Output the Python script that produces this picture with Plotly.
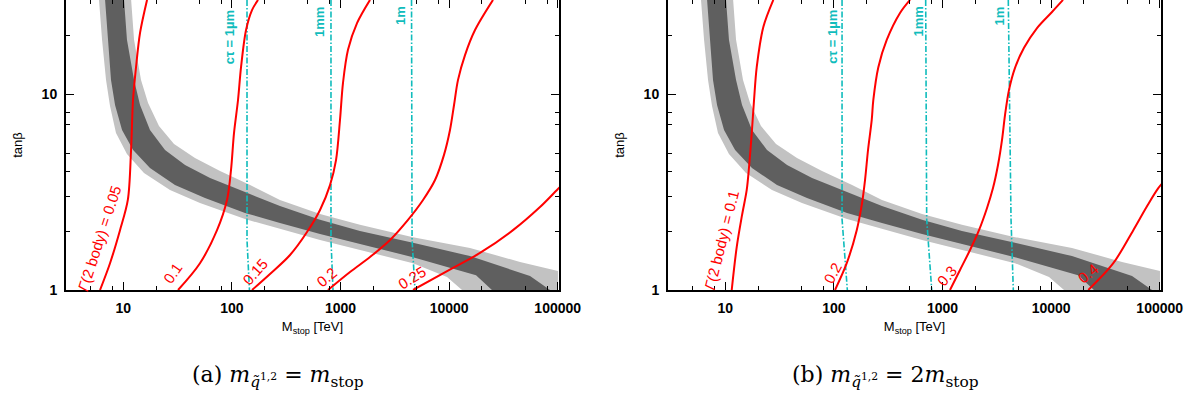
import numpy as np
import plotly.graph_objects as go

# ---------------- data (M_stop [TeV], tan beta) ----------------
# allowed band (identical in both panels)
dark_outer_M = [10.15, 10.8, 12.55, 14.25, 17.6, 24.2, 37, 62.9, 132, 277, 648, 1510, 4650, 15570, 55600, 85000]
dark_outer_T = [30.2, 18.9, 11.8, 8.79, 6.55, 5.18, 4.34, 3.73, 3.16, 2.68, 2.28, 2.00, 1.74, 1.49, 1.18, 1.0]
dark_inner_M = [6.79, 7.23, 7.70, 8.39, 9.73, 12.3, 17.6, 29.9, 56.5, 132, 277, 648, 4650, 17700, 24800]
dark_inner_T = [30.2, 18.9, 11.8, 8.79, 6.55, 5.18, 4.19, 3.43, 2.95, 2.47, 2.20, 1.93, 1.47, 1.19, 1.0]
light_outer_M = [11.8, 12.55, 14.55, 16.9, 21.3, 29.3, 45.7, 77.7, 147, 277, 648, 1510, 4650, 15570, 45000, 100600, 100600]
light_outer_T = [30.2, 18.9, 11.8, 9.0, 6.87, 5.56, 4.72, 4.05, 3.43, 2.88, 2.44, 2.15, 1.86, 1.64, 1.39, 1.25, 1.0]
light_inner_M = [5.97, 6.37, 6.93, 7.54, 8.56, 10.8, 15.5, 26.9, 50.8, 132, 277, 648, 4650, 9570, 13150]
light_inner_T = [30.2, 18.9, 11.8, 8.69, 6.32, 4.94, 3.95, 3.24, 2.78, 2.30, 2.05, 1.80, 1.37, 1.165, 1.0]

# panel (a): Gamma(2 body) contours
a_g005_M = [6.10, 7.54, 9.32, 11.0, 11.78, 12.28, 13.09, 14.25, 16.53]
a_g005_T = [1.0, 1.37, 2.02, 2.88, 5.18, 9.32, 13.7, 20.5, 30.2]
a_g010_M = [31.9, 50.8, 72.9, 90.1, 98.1, 104.5, 113.8, 121.3, 134.9, 153.1, 173.9]
a_g010_T = [1.0, 1.37, 2.02, 2.88, 4.10, 6.32, 9.32, 13.7, 21.2, 26.8, 30.2]
a_g015_M = [153.1, 224.2, 342.8, 491.5, 647.5, 800.5, 909, 989, 1054, 1172, 1419, 1869]
a_g015_T = [1.0, 1.207, 1.509, 1.976, 2.56, 3.43, 4.60, 7.37, 11.4, 16.8, 23.0, 30.2]
a_g020_M = [767, 1223, 1869, 2857, 4183, 5752, 7418, 8974, 10190, 11100, 12080, 14010, 17320, 25360]
a_g020_T = [1.0, 1.235, 1.473, 1.80, 2.28, 2.88, 3.64, 4.89, 6.55, 8.79, 11.8, 15.8, 21.2, 30.2]
a_g025_M = [4652, 10860, 19250, 38770, 68710, 98540, 116800]
a_g025_T = [1.0, 1.295, 1.545, 2.02, 2.65, 3.24, 3.56]
a_gamma_labels = ["<i>Γ</i>(2 body) = 0.05", "0.1", "0.15", "0.2", "0.25"]
a_gamma_label_M = [5.97, 28.1, 163, 735, 4550]
a_gamma_label_T = [1.84, 1.22, 1.25, 1.165, 1.165]

# panel (a): c*tau lines
a_ct_1um_M = [137.7, 137.7, 145]
a_ct_1mm_M = [817, 817, 853]
a_ct_1m_M = [4508, 4560, 4853]
ct_T = [30.2, 1.8, 1.0]
ct_labels = ["cτ = 1µm", "1mm", "1m"]
a_ct_label_M = [94, 634, 3532]
ct_label_T = [19.5, 23.3, 25.0]

# panel (b): Gamma(2 body) contours
b_g01_M = [11.45, 12.74, 14.25, 15.74, 16.53, 17.51, 18.38, 19.46, 22.38, 27.67]
b_g01_T = [1.0, 1.66, 2.41, 3.24, 4.24, 6.32, 9.32, 13.7, 21.97, 30.2]
b_g02_M = [102.4, 131.2, 162.2, 180.3, 193.4, 206.1, 222.9, 230.6, 256.4, 306.4, 406.1, 502]
b_g02_T = [1.0, 1.37, 2.02, 2.71, 3.64, 5.18, 7.37, 9.32, 13.7, 18.86, 25.9, 30.2]
b_g03_M = [1172, 1449, 1792, 2168, 2570, 2917, 3243, 3531, 3763, 4096, 4652, 5630, 7418, 10190, 12870]
b_g03_T = [1.0, 1.265, 1.60, 2.02, 2.62, 3.31, 4.34, 5.83, 7.81, 10.5, 13.6, 17.2, 21.7, 26.2, 30.2]
b_g04_M = [22000, 37390, 57140, 75930, 97070, 116800]
b_g04_T = [1.0, 1.37, 2.02, 2.66, 3.31, 3.73]
b_gamma_labels = ["<i>Γ</i>(2 body) = 0.1", "0.2", "0.3", "0.4"]
b_gamma_label_M = [9.33, 96, 1099, 21880]
b_gamma_label_T = [1.80, 1.22, 1.19, 1.207]

# panel (b): c*tau lines
b_ct_1um_M = [118.8, 118.8, 132.9]
b_ct_1mm_M = [700, 715, 795.5]
b_ct_1m_M = [4035, 4274, 4487]
b_ct_T = [30.2, 2.3, 1.0]
b_ct_label_M = [95.4, 589, 3281]

x_major = [10, 100, 1000, 10000, 100000]
x_minor = [5, 8, 20, 50, 80, 200, 500, 800, 2000, 5000, 8000, 20000, 50000, 80000]
y_major = [1, 10]
y_minor = [2, 3, 4, 5, 7, 8, 20]
captions = ["(a)&nbsp;<i>m</i><sub><i>q̃</i><sup>1,2</sup></sub>&nbsp;=&nbsp;<i>m</i><sub>stop</sub>",
            "(b)&nbsp;<i>m</i><sub><i>q̃</i><sup>1,2</sup></sub>&nbsp;=&nbsp;2<i>m</i><sub>stop</sub>"]

# ---------------- styles ----------------
RED = "#ff0000"
CYAN = "#10bcbc"
DARK = "#5f5f5f"
LIGHT = "#c2c2c2"
SANS = "Liberation Sans, Arial, sans-serif"
SERIF = "DejaVu Serif, Liberation Serif, serif"

fig = go.Figure()


def add_band(xa, ya):
    lm = light_outer_M + light_inner_M[::-1]
    lt = light_outer_T + light_inner_T[::-1]
    dm = dark_outer_M + dark_inner_M[::-1]
    dt = dark_outer_T + dark_inner_T[::-1]
    fig.add_trace(go.Scatter(x=lm, y=lt, fill="toself", fillcolor=LIGHT, mode="lines",
                             line=dict(width=0, color=LIGHT), xaxis=xa, yaxis=ya,
                             hoverinfo="skip", showlegend=False))
    fig.add_trace(go.Scatter(x=dm, y=dt, fill="toself", fillcolor=DARK, mode="lines",
                             line=dict(width=0, color=DARK), xaxis=xa, yaxis=ya,
                             hoverinfo="skip", showlegend=False))


def add_line(M, T, xa, ya, color, width, dash="solid", shape="spline"):
    fig.add_trace(go.Scatter(x=M, y=T, mode="lines",
                             line=dict(color=color, width=width, dash=dash, shape=shape, smoothing=0.9),
                             xaxis=xa, yaxis=ya, hoverinfo="skip", showlegend=False))


annotations = []


def add_label(text, M, T, xa, ya, color, angle, size=13):
    annotations.append(dict(text=text, x=np.log10(M), y=np.log10(T), xref=xa, yref=ya,
                            showarrow=False, textangle=angle,
                            font=dict(family=SANS, size=size, color=color)))


DD = "6px,2px,1.5px,2px"

# panel (a)
add_band("x", "y")
for M in [a_ct_1um_M, a_ct_1mm_M, a_ct_1m_M]:
    add_line(M, ct_T, "x", "y", CYAN, 1.6, DD, "linear")
for M, T in [(a_g005_M, a_g005_T), (a_g010_M, a_g010_T), (a_g015_M, a_g015_T),
             (a_g020_M, a_g020_T), (a_g025_M, a_g025_T)]:
    add_line(M, T, "x", "y", RED, 2)
a_angles = [-72, -55, -48, -40, -32]
for t, m, tb, ang in zip(a_gamma_labels, a_gamma_label_M, a_gamma_label_T, a_angles):
    add_label(t, m, tb, "x", "y", RED, ang, size=15)
for t, m, tb in zip(ct_labels, a_ct_label_M, ct_label_T):
    add_label("<b>" + t + "</b>", m, tb, "x", "y", CYAN, -90, size=13)

# panel (b)
add_band("x2", "y2")
for M in [b_ct_1um_M, b_ct_1mm_M, b_ct_1m_M]:
    add_line(M, b_ct_T, "x2", "y2", CYAN, 1.6, DD, "linear")
for M, T in [(b_g01_M, b_g01_T), (b_g02_M, b_g02_T), (b_g03_M, b_g03_T), (b_g04_M, b_g04_T)]:
    add_line(M, T, "x2", "y2", RED, 2)
b_angles = [-76, -62, -50, -40]
for t, m, tb, ang in zip(b_gamma_labels, b_gamma_label_M, b_gamma_label_T, b_angles):
    add_label(t, m, tb, "x2", "y2", RED, ang, size=15)
for t, m, tb in zip(ct_labels, b_ct_label_M, ct_label_T):
    add_label("<b>" + t + "</b>", m, tb, "x2", "y2", CYAN, -90, size=13)

# captions
for cap, cx in zip(captions, [190 / 1195, 790 / 1195]):
    annotations.append(dict(text=cap, x=cx, y=0.028, xref="paper", yref="paper",
                            xanchor="left", showarrow=False,
                            font=dict(family=SERIF, size=22, color="black")))

W, H = 1195, 404
xr = [np.log10(2.965), np.log10(1.028e5)]
yr = [0, np.log10(30.17)]


def xaxis(dom):
    return dict(type="log", range=xr, domain=dom, tickmode="array", tickvals=x_major,
                ticktext=[str(v) for v in x_major], ticks="inside", ticklen=8, tickwidth=1.2,
                tickcolor="black", showline=True, linewidth=2, linecolor="black", mirror="allticks",
                showgrid=False, zeroline=False, automargin=False, ticklabelstandoff=4,
                tickfont=dict(family=SANS, size=14, color="black", weight="bold"),
                minor=dict(tickmode="array", tickvals=x_minor, ticks="inside", ticklen=4,
                           tickwidth=1, tickcolor="black", showgrid=False),
                title=dict(text="M<sub>stop</sub> [TeV]", standoff=7,
                           font=dict(family=SANS, size=13, color="black")))


def yaxis(dom_y):
    return dict(type="log", range=yr, domain=dom_y, tickmode="array", tickvals=y_major,
                ticktext=[str(v) for v in y_major], ticks="inside", ticklen=8, tickwidth=1.2,
                tickcolor="black", showline=True, linewidth=2, linecolor="black", mirror="allticks",
                showgrid=False, zeroline=False, automargin=False, ticklabelstandoff=4,
                tickfont=dict(family=SANS, size=14, color="black", weight="bold"),
                minor=dict(tickmode="array", tickvals=y_minor, ticks="inside", ticklen=4,
                           tickwidth=1, tickcolor="black", showgrid=False),
                title=dict(text="tanβ", standoff=16, font=dict(family=SANS, size=13, color="black")))


ydom = [(H - 290) / H, 1.0]
fig.update_layout(
    width=W, height=H, template="none",
    margin=dict(l=0, r=0, t=0, b=0),
    paper_bgcolor="white", plot_bgcolor="white",
    xaxis=dict(xaxis([66 / W, 559 / W]), anchor="y"),
    yaxis=dict(yaxis(ydom), anchor="x"),
    xaxis2=dict(xaxis([668 / W, 1161 / W]), anchor="y2"),
    yaxis2=dict(yaxis(ydom), anchor="x2"),
    annotations=annotations,
    showlegend=False,
)

fig.write_html("out.html")
